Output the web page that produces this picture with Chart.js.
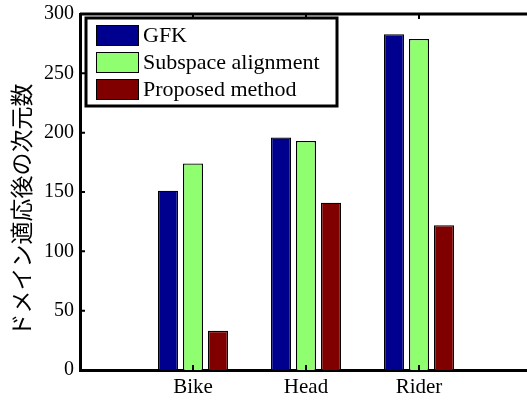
<!DOCTYPE html>
<html lang="ja">
<head>
<meta charset="UTF-8">
<title>ドメイン適応後の次元数</title>
<script src="https://cdn.jsdelivr.net/npm/chart.js@4.4.0/dist/chart.umd.min.js"></script>
<style>
  html, body { margin: 0; padding: 0; background: #fff; overflow: hidden; }
  #wrap { position: relative; width: 540px; height: 401px; }
</style>
</head>
<body>
<div id="wrap"><canvas id="chart" width="540" height="401"></canvas></div>
<script>
// data
const categories = ['Bike', 'Head', 'Rider'];
const seriesNames = ['GFK', 'Subspace alignment', 'Proposed method'];
const gfk = [151, 196, 283];
const subspace = [174, 193, 279];
const proposed = [33, 141, 122];
const seriesColours = ['#00008f', '#8fff70', '#800000'];
const yTicks = [0, 50, 100, 150, 200, 250, 300];
const yTitle = 'ドメイン適応後の次元数';

const serif = '"Liberation Serif", "Times New Roman", serif';

// matlab puts the bars at 1..3 with xlim [0 4], so pad both ends with an empty slot
const labels = [''].concat(categories, ['']);
const pad = arr => [null].concat(arr, [null]);

// box round the plot + inward tick marks, like matlab axes
const frame = {
  id: 'frame',
  afterDatasetsDraw(chart) {
    const ctx = chart.ctx;
    const a = chart.chartArea;
    const x = chart.scales.x, y = chart.scales.y;
    ctx.save();
    ctx.strokeStyle = '#000';
    ctx.lineWidth = 3;
    ctx.beginPath();
    ctx.moveTo(a.left, a.top);
    ctx.lineTo(a.right, a.top);
    ctx.lineTo(a.right, a.bottom);
    ctx.stroke();
    ctx.lineWidth = 2;
    ctx.beginPath();
    yTicks.forEach(v => {
      const py = y.getPixelForValue(v);
      ctx.moveTo(a.left, py); ctx.lineTo(a.left + 5, py);
      ctx.moveTo(a.right, py); ctx.lineTo(a.right - 5, py);
    });
    categories.forEach((c, i) => {
      const px = x.getPixelForValue(i + 1);
      ctx.moveTo(px, a.top); ctx.lineTo(px, a.top + 5);
      ctx.moveTo(px, a.bottom); ctx.lineTo(px, a.bottom - 5);
    });
    ctx.stroke();
    ctx.restore();
  }
};

// legend with a black box in the upper left corner
const boxLegend = {
  id: 'boxLegend',
  afterDraw(chart) {
    const ctx = chart.ctx;
    const a = chart.chartArea;
    const bx = a.left + 6, by = a.top + 4, bw = 251, bh = 88;
    ctx.save();
    ctx.fillStyle = '#fff';
    ctx.fillRect(bx, by, bw, bh);
    ctx.strokeStyle = '#000';
    ctx.lineWidth = 3;
    ctx.strokeRect(bx, by, bw, bh);
    ctx.font = '22px ' + serif;
    ctx.textBaseline = 'middle';
    chart.data.datasets.forEach((ds, i) => {
      const ry = by + 7 + i * 27;
      ctx.fillStyle = ds.backgroundColor;
      ctx.fillRect(bx + 10, ry, 43, 21);
      ctx.lineWidth = 1;
      ctx.strokeRect(bx + 10.5, ry + 0.5, 42, 20);
      ctx.fillStyle = '#000';
      ctx.fillText(ds.label, bx + 57, ry + 11);
    });
    ctx.restore();
  }
};

// rotated y title
const sideTitle = {
  id: 'sideTitle',
  afterDraw(chart) {
    const ctx = chart.ctx;
    const a = chart.chartArea;
    ctx.save();
    ctx.translate(21, (a.top + a.bottom) / 2 + 18);
    ctx.rotate(-Math.PI / 2);
    ctx.font = '23px "Noto Sans CJK JP", sans-serif';
    ctx.fillStyle = '#000';
    ctx.textAlign = 'center';
    ctx.textBaseline = 'middle';
    ctx.fillText(yTitle, 0, 0);
    ctx.restore();
  }
};

const values = [gfk, subspace, proposed];
const datasets = seriesNames.map((name, i) => ({
  label: name,
  data: pad(values[i]),
  backgroundColor: seriesColours[i],
  borderColor: '#000',
  borderWidth: 1.3,
  categoryPercentage: 0.664,
  barPercentage: 0.8
}));

new Chart(document.getElementById('chart'), {
  type: 'bar',
  data: { labels: labels, datasets: datasets },
  options: {
    responsive: false,
    animation: false,
    devicePixelRatio: 1,
    layout: { padding: { top: 0, right: 8, left: 0, bottom: 0 } },
    plugins: { legend: { display: false }, tooltip: { enabled: false } },
    scales: {
      x: {
        offset: false,
        grid: { display: false, drawTicks: false },
        border: { display: true, color: '#000', width: 3 },
        ticks: { color: '#000', font: { family: serif, size: 21 }, padding: 5, autoSkip: false, maxRotation: 0 },
        afterFit: s => { s.height = 31; }
      },
      y: {
        min: 0,
        max: 300,
        grid: { display: false, drawTicks: false },
        border: { display: true, color: '#000', width: 3 },
        ticks: { color: '#000', font: { family: serif, size: 20, lineHeight: 0.8 }, padding: 6, stepSize: 50 },
        afterFit: s => { s.width = 80; }
      }
    }
  },
  plugins: [frame, boxLegend, sideTitle]
});
</script>
</body>
</html>
